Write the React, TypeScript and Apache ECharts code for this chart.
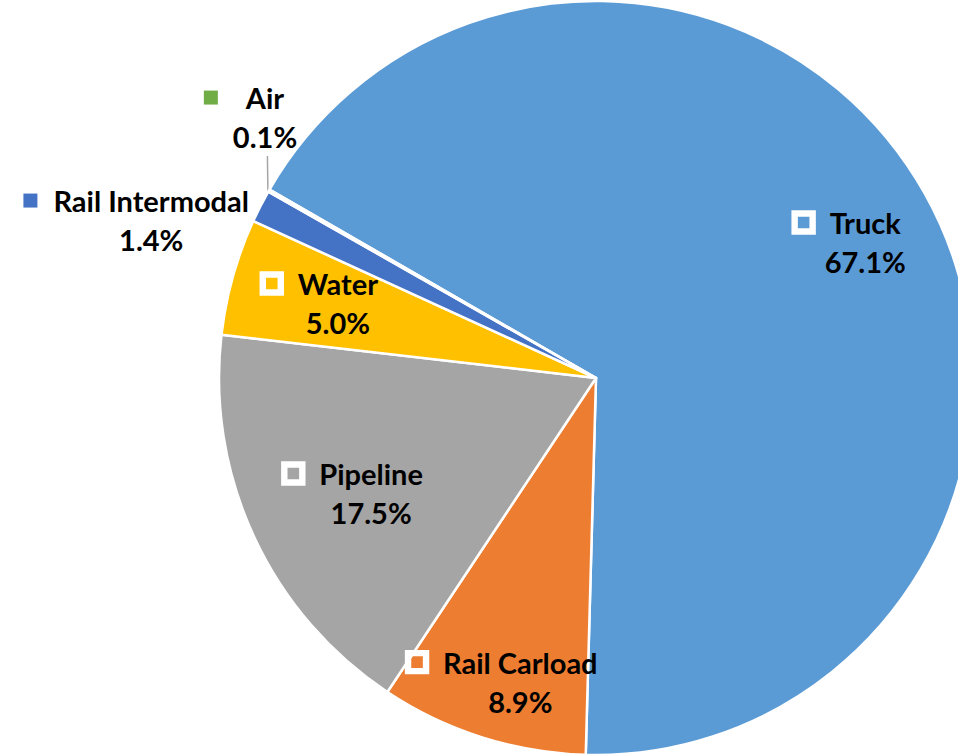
import React, { useEffect, useRef } from 'react';
import * as echarts from 'echarts';

const categories = ['Truck', 'Rail Carload', 'Pipeline', 'Water', 'Rail Intermodal', 'Air'];
const shares = [67.1, 8.9, 17.5, 5.0, 1.4, 0.1];
const colors = ['#5B9BD5', '#ED7D31', '#A5A5A5', '#FFC000', '#4472C4', '#70AD47'];
const outsideLabels = ['Rail Intermodal', 'Air'];
const leaderLabels = ['Air'];

// label placement: [fraction of radius, angle clockwise from 12 o'clock (deg)]
const labelPlacement: number[][] = [
  [0.8, 63.2],
  [0.83, 194.0],
  [0.67, 242.9],
  [0.713, 286.2],
  [1.252, 289.55],
  [1.118, 308.25],
];

const CX = 596;
const CY = 378;
const R = 377;
const FIRST_SLICE_ANGLE = 300; // clockwise from 12 o'clock
const FONT = 'Lato, "Liberation Sans", Arial, sans-serif';
const FONT_SIZE = 29;
const LINE_H = 39;
const KEY_IN = 18;
const KEY_OUT = 14;

function gapFor(name: string) {
  if (name === 'Air') return 28;
  return outsideLabels.includes(name) ? 16 : 17;
}
function keyFor(name: string) {
  return outsideLabels.includes(name) ? KEY_OUT : KEY_IN;
}

export default function App() {
  const ref = useRef<HTMLDivElement>(null);
  useEffect(() => {
    if (!ref.current) return;
    const chart = echarts.init(ref.current, null, { renderer: 'svg' });
    const total = shares.reduce((a, b) => a + b, 0);

    const data = categories.map((name, i) => {
      const outside = outsideLabels.includes(name);
      const keyW = keyFor(name);
      const gap = gapFor(name);
      return {
        name,
        value: shares[i],
        itemStyle: { color: colors[i] },
        label: {
          position: outside ? 'outside' : 'inside',
          formatter: (p: any) =>
            `{k|}{g|}{n|${p.name}}\n{s|}{n|${Number(p.value).toFixed(1)}%}`,
          rich: {
            k: outside
              ? { width: keyW, height: keyW, backgroundColor: colors[i] }
              : {
                  width: keyW,
                  height: keyW,
                  backgroundColor: 'transparent',
                  borderColor: '#ffffff',
                  borderWidth: 3.2,
                },
            g: { width: gap, height: 10 },
            s: { width: keyW + gap, height: 10 },
            n: {
              fontFamily: FONT,
              fontSize: FONT_SIZE,
              fontWeight: 'bold',
              color: '#000000',
              lineHeight: LINE_H,
            },
          },
        },
        labelLine: {
          show: leaderLabels.includes(name),
          lineStyle: { color: '#A6A6A6', width: 1.5 },
        },
      };
    });

    chart.setOption({
      animation: false,
      backgroundColor: '#ffffff',
      series: [
        {
          type: 'pie',
          center: [CX, CY],
          radius: R,
          startAngle: 90 + (360 - FIRST_SLICE_ANGLE),
          clockwise: true,
          avoidLabelOverlap: false,
          emphasis: { disabled: true },
          itemStyle: { borderColor: '#ffffff', borderWidth: 2.5 },
          label: { show: true },
          data,
          labelLayout: (params: any) => {
            const i = params.dataIndex;
            const name = categories[i];
            const [f, a] = labelPlacement[i];
            const rad = (a * Math.PI) / 180;
            const tx = CX + R * f * Math.sin(rad);
            const ty = CY - R * f * Math.cos(rad);
            const shift = (keyFor(name) + gapFor(name)) / 2;
            const res: any = {
              x: tx - shift,
              y: ty,
              align: 'center',
              verticalAlign: 'middle',
            };
            if (leaderLabels.includes(name)) {
              let before = 0;
              for (let j = 0; j < i; j++) before += shares[j];
              const midDeg =
                FIRST_SLICE_ANGLE + ((before + shares[i] / 2) / total) * 360;
              const mr = (midDeg * Math.PI) / 180;
              const ex = CX + R * Math.sin(mr);
              const ey = CY - R * Math.cos(mr);
              const top = ty + LINE_H;
              res.labelLinePoints = [
                [ex - 1, ey + 2],
                [ex - 1.5, top],
                [ex - 1.5, top],
              ];
            }
            return res;
          },
        },
      ],
    });
    return () => chart.dispose();
  }, []);
  return (
    <div
      ref={ref}
      style={{ position: 'absolute', left: 0, top: 0, width: 958, height: 755 }}
    />
  );
}
